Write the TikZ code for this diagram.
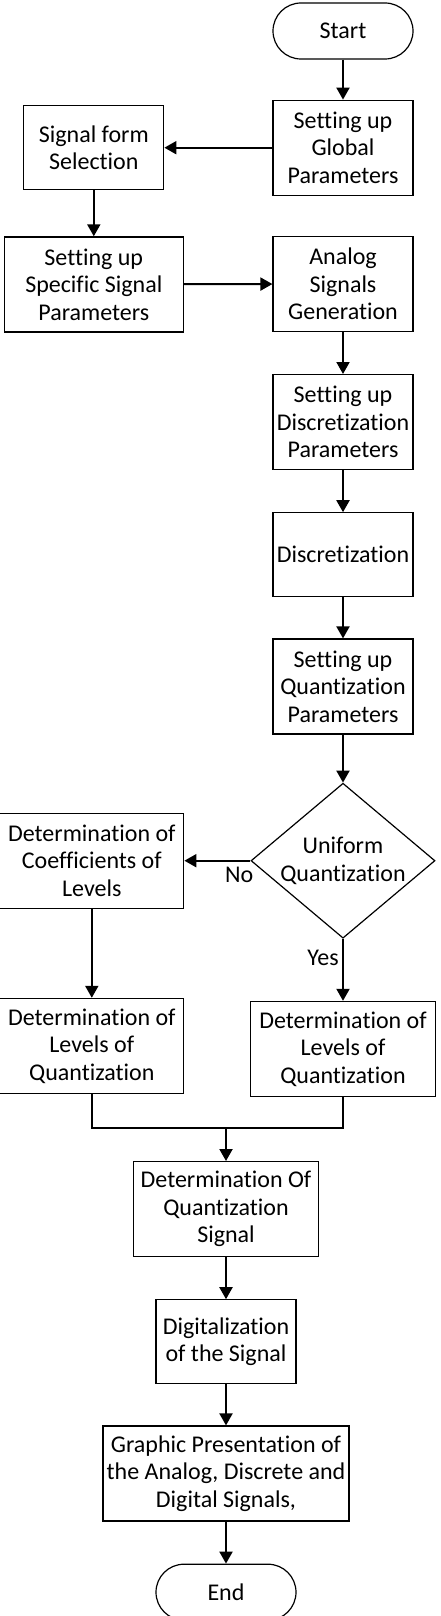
\documentclass[tikz,border=0pt]{standalone}
\usepackage{fontspec}
\setmainfont{Carlito}[Ligatures=NoCommon]
\usetikzlibrary{arrows.meta,positioning,shapes.geometric}

\begin{document}
\begin{tikzpicture}[>={Triangle[length=12pt,width=13pt]}, x=1pt, y=1pt, node distance=41pt,
  every node/.style={font=\fontsize{24}{27.5}\selectfont},
  box/.style={draw, line width=1.2pt, minimum width=140pt, minimum height=84pt, align=center, inner sep=2pt},
  tall/.style={minimum height=95pt},
  term/.style={draw, line width=1.2pt, rounded corners=28pt, minimum width=140pt, minimum height=56pt},
  flow/.style={->, line width=2pt}]
\useasboundingbox (0,0) rectangle (440,-1616);
\node[term] (start) at (343,-31) {Start};
\node[box, tall, below=40pt of start] (glob) {Setting up\\Global\\Parameters};
\node[box, left=108pt of glob] (form) {Signal form\\Selection};
\node[box, tall, minimum width=179pt, below=46pt of form] (spec) {Setting up\\Specific Signal\\Parameters};
\node[box, tall, below=40pt of glob] (analog) {Analog\\Signals\\Generation};
\node[box, tall, below=42pt of analog] (discp) {Setting up\\Discretization\\Parameters};
\node[box, below=42pt of discp] (disc) {Discretization};
\node[box, tall, below=41pt of disc] (quantp) {Setting up\\Quantization\\Parameters};
\node[draw, line width=1.2pt, diamond, aspect=1.19, inner sep=-4pt, minimum width=184pt, minimum height=155pt, align=center, below=48pt of quantp] (uniform) {Uniform\\Quantization};
\node[box, tall, minimum width=184pt, left=66pt of uniform] (coef) {Determination of\\Coefficients of\\Levels};
\node[box, tall, minimum width=184pt, below=89pt of coef] (levl) {Determination of\\Levels of\\Quantization};
\node[box, tall, minimum width=185pt, below=62pt of uniform] (levr) {Determination of\\Levels of\\Quantization};
\coordinate (join) at (226,-1128);
\node[box, tall, minimum width=185pt, below=33pt of join] (detq) {Determination Of\\Quantization\\Signal};
\node[box, below=42pt of detq] (digit) {Digitalization\\of the Signal};
\node[box, tall, minimum width=246pt, below=41pt of digit] (graph) {Graphic Presentation of\\the Analog, Discrete and\\Digital Signals,};
\node[term, below=42pt of graph] (end) {End};
\draw[flow] (start) -- (glob);
\draw[flow] (glob) -- (form);
\draw[flow] (form) -- (spec);
\draw[flow] (spec) -- (analog);
\draw[flow] (analog) -- (discp);
\draw[flow] (discp) -- (disc);
\draw[flow] (disc) -- (quantp);
\draw[flow] (quantp) -- (uniform);
\draw[flow] (uniform) -- node[pos=0.17, below=2pt] {No} (coef);
\draw[flow] (uniform) -- node[pos=0.31, left] {Yes} (levr);
\draw[flow] (coef) -- (levl);
\draw[line width=2pt] (levl.south) |- (join) -| (levr.south);
\draw[flow] (join) -- (detq);
\draw[flow] (detq) -- (digit);
\draw[flow] (digit) -- (graph);
\draw[flow] (graph) -- (end);
\end{tikzpicture}
\end{document}
